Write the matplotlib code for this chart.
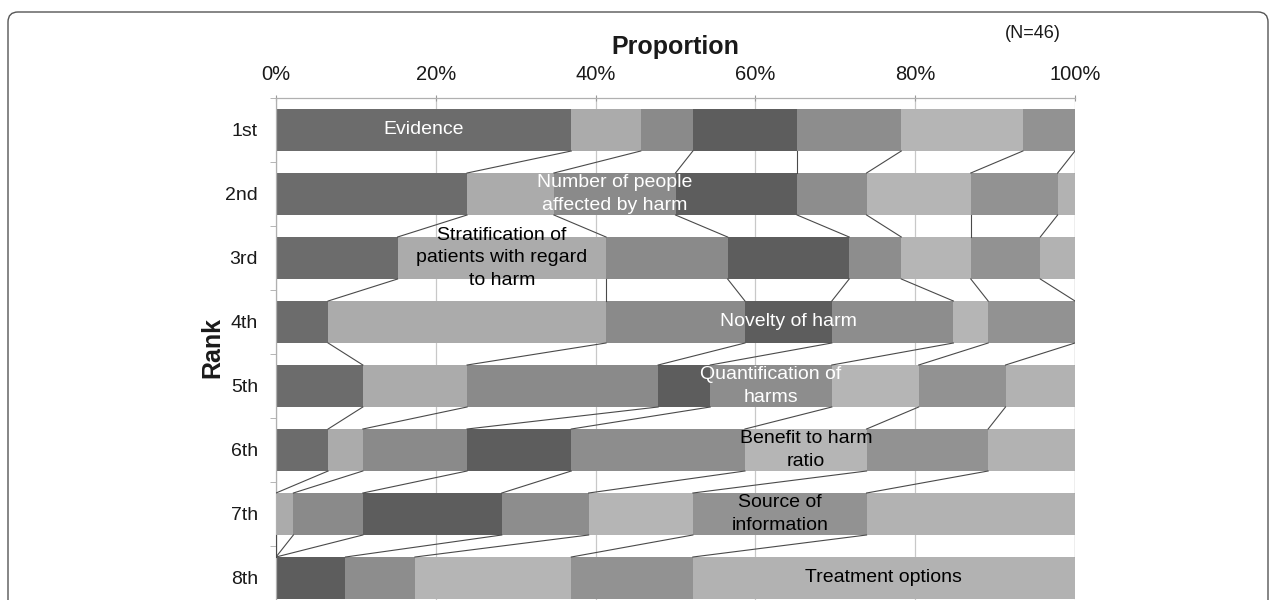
import numpy as np
import matplotlib
matplotlib.use('Agg')
import matplotlib.pyplot as plt
from matplotlib.patches import FancyBboxPatch
from matplotlib.transforms import IdentityTransform

plt.rcParams['font.family'] = ['Liberation Sans', 'DejaVu Sans']

N = 46
ranks = ['1st', '2nd', '3rd', '4th', '5th', '6th', '7th', '8th']

# number of respondents giving each criterion each rank (stacking order)
evidence = [17, 11, 7, 3, 5, 3, 0, 0]
stratification = [4, 5, 12, 16, 6, 2, 1, 0]
people_affected = [3, 7, 7, 8, 11, 6, 4, 0]
novelty = [6, 7, 7, 5, 3, 6, 8, 4]
quantification = [6, 4, 3, 7, 7, 10, 5, 4]
benefit_ratio = [7, 6, 4, 2, 5, 7, 6, 9]
source_info = [3, 5, 4, 5, 5, 7, 10, 7]
treatment = [0, 1, 2, 0, 4, 5, 12, 22]

series = [evidence, stratification, people_affected, novelty,
          quantification, benefit_ratio, source_info, treatment]
names = ['Evidence',
         'Stratification of\npatients with regard\nto harm',
         'Number of people\naffected by harm',
         'Novelty of harm',
         'Quantification of\nharms',
         'Benefit to harm\nratio',
         'Source of\ninformation',
         'Treatment options']
label_rank = [0, 2, 1, 3, 4, 5, 6, 7]
label_color = ['white', 'black', 'white', 'white', 'white', 'black', 'black', 'black']
fills = ['#6c6c6c', '#ababab', '#8a8a8a', '#5d5d5d',
         '#8d8d8d', '#b5b5b5', '#929292', '#b2b2b2']

W, H = 1276, 600
fig = plt.figure(figsize=(W / 100, H / 100), dpi=100)
ax = fig.add_axes([276 / W, 1 - 610 / H, 799 / W, 512 / H])

pct = np.array(series, dtype=float) / N * 100
y = np.arange(len(ranks))
bh = 0.656
left = np.zeros(len(ranks))
for i in range(len(series)):
    ax.barh(y, pct[i], left=left, height=bh, color=fills[i], edgecolor='none', zorder=2)
    xc = left[label_rank[i]] + pct[i][label_rank[i]] / 2
    ax.text(xc, label_rank[i], names[i], ha='center', va='center', fontsize=14,
            color=label_color[i], linespacing=1.4, zorder=4)
    left = left + pct[i]
    # series line joining the end of this segment from one bar to the next
    for r in range(len(ranks) - 1):
        ax.plot([left[r], left[r + 1]], [r + bh / 2, r + 1 - bh / 2],
                color='#4a4a4a', lw=0.8, zorder=3)

ax.set_xlim(0, 100)
ax.set_ylim(7.5, -0.5)
ax.xaxis.tick_top()
ax.set_xticks(range(0, 101, 20))
ax.set_xticklabels([f'{v}%' for v in range(0, 101, 20)])
ax.tick_params(axis='x', labelsize=14.5, direction='inout', length=4,
               color='#999999', pad=8, labelcolor='#1a1a1a')
ax.set_yticks(y)
ax.set_yticklabels(ranks)
ax.tick_params(axis='y', which='major', labelsize=14, length=0, pad=13,
               labelcolor='#1a1a1a')
ax.set_yticks(np.arange(-0.5, 8, 1), minor=True)
ax.tick_params(axis='y', which='minor', length=4, color='#aaaaaa', direction='out')
ax.xaxis.grid(True, color='#c8c8c8', lw=0.9)
ax.set_axisbelow(True)
for s in ['right', 'bottom']:
    ax.spines[s].set_visible(False)
for s in ['top', 'left']:
    ax.spines[s].set_color('#b0b0b0')
    ax.spines[s].set_linewidth(0.9)

fig.text(675 / W, 1 - 47 / H, 'Proportion', ha='center', va='center',
         fontsize=18, fontweight='bold', color='#1a1a1a')
fig.text(1033 / W, 1 - 33 / H, '(N=46)', ha='center', va='center',
         fontsize=13, color='#1a1a1a')
fig.text(212 / W, 1 - 347 / H, 'Rank', ha='center', va='center', rotation=90,
         fontsize=18, fontweight='bold', color='#1a1a1a')

frame = FancyBboxPatch((8, -40), 1260, 628, boxstyle='round,pad=0,rounding_size=10',
                       transform=IdentityTransform(), fill=False,
                       edgecolor='#555555', lw=1.0)
fig.patches.append(frame)

fig.savefig('out.png', dpi=100)
